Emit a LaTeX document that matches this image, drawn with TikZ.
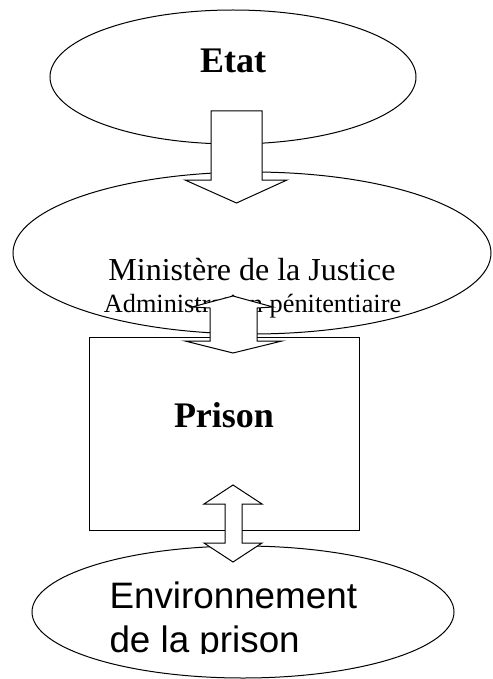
\documentclass[tikz,border=0pt]{standalone}
\usepackage{fontspec}
\setmainfont{Liberation Serif}
\newfontfamily\arialfont{Liberation Sans}
\usetikzlibrary{shapes.geometric}
\tikzset{
  blockarrow/.style={draw,fill=white,line width=1pt,line join=miter}
}
\begin{document}
\begin{tikzpicture}[x=1pt,y=-1pt,line width=1pt]
    \useasboundingbox (0,0) rectangle (492,679);

    \node[draw,ellipse,minimum width=366pt,minimum height=134pt] (etat) at (233,77) {};
    \node[draw,ellipse,minimum width=478pt,minimum height=162pt] (ministere) at (252,253) {};
    \node[draw,rectangle,minimum width=270pt,minimum height=193pt] (prison) at (224,433.5) {};
    \node[draw,ellipse,minimum width=422pt,minimum height=132pt] (env) at (243,612) {};

    \node[anchor=base,font=\fontsize{36}{40}\selectfont\bfseries] (etattxt) at (233,73) {Etat};
    \node[anchor=base,font=\fontsize{32}{35}\selectfont] (mintxt) at (252,280) {Ministère de la Justice};
    \node[anchor=base,font=\fontsize{26.3}{30}\selectfont] (admtxt) at (252.5,312) {Administration pénitentiaire};
    \node[anchor=base,font=\fontsize{36}{40}\selectfont\bfseries] (prisontxt) at (224,427) {Prison};
    \begin{scope}
      \clip (0,0) rectangle (492,653);
      \node[anchor=base west,inner sep=0pt,font=\arialfont\fontsize{36.8}{40}\selectfont] (envtxt1) at (109,608) {Environnement};
      \node[anchor=base west,inner sep=0pt,font=\arialfont\fontsize{36.8}{40}\selectfont] (envtxt2) at (109,652) {de la prison};
    \end{scope}

    % Etat -> Ministere
    \draw[blockarrow] (211,111) -- (262,111) -- (262,180) -- (287,180) -- (236.5,203)
      -- (185,180) -- (211,180) -- cycle;
    % Ministere -> Prison
    \draw[blockarrow] (192,307) -- (233,296) -- (273,307) -- (257,308) -- (257,341)
      -- (282,341) -- (233,353) -- (185,341) -- (210,341) -- (210,308) -- cycle;
    % Prison <-> environnement
    \draw[blockarrow] (233,485) -- (262,504) -- (242,504) -- (242,543) -- (262,543)
      -- (233,562) -- (204,543) -- (225,543) -- (225,504) -- (204,504) -- cycle;
\end{tikzpicture}
\end{document}
